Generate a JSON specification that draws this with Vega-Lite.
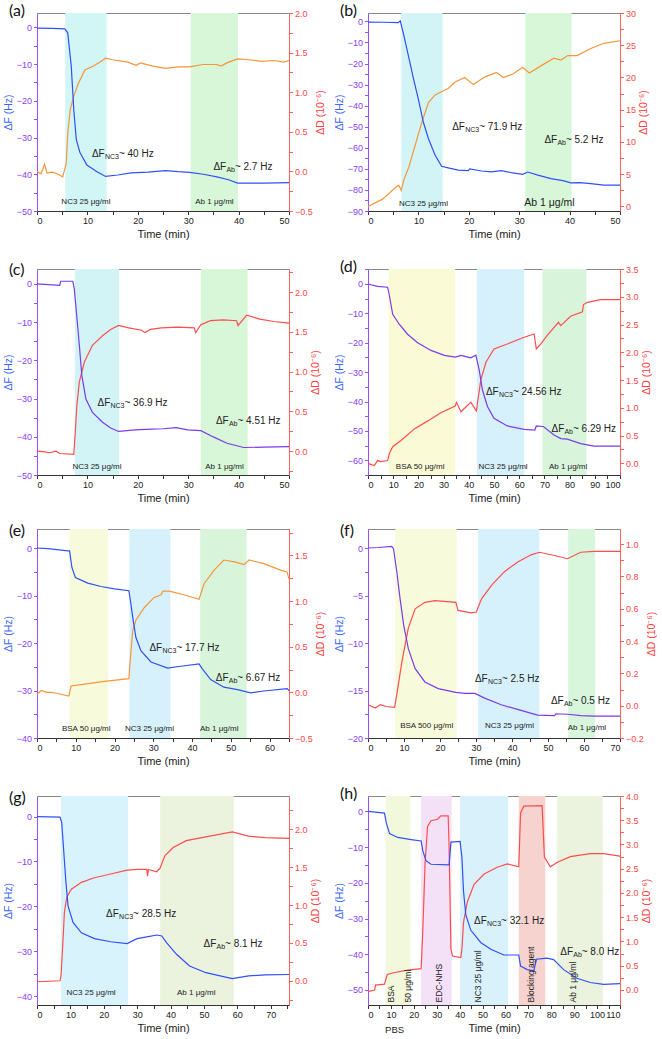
{
"$schema":"https://vega.github.io/schema/vega-lite/v6.json",
"padding":{"left":2,"right":2,"top":2,"bottom":0},
"config":{
 "view":{"stroke":"#888","strokeWidth":1},
 "font":"Liberation Sans",
 "axis":{"labelFont":"Liberation Sans","titleFont":"Liberation Sans","labelFontSize":9,"titleFontSize":10.5,"titleFontWeight":"normal","grid":false,"tickSize":3.5,"labelPadding":2,"titlePadding":3,"labelOverlap":false},
 "axisBottom":{"domainColor":"#333","tickColor":"#333","labelColor":"#222","titleColor":"#222","titleFontSize":11},
 "axisLeft":{"domainColor":"#9a50ff","tickColor":"#9a50ff","labelColor":"#8a3cf5","titleColor":"#3a66ff"},
 "axisRight":{"domainColor":"#ff6060","tickColor":"#ff6060","labelColor":"#ff4a4a","titleColor":"#ff3b3b","titleAngle":270,"titleBaseline":"top"},
 "title":{"anchor":"start","frame":"group","dx":-28,"fontSize":16,"font":"Lato","fontWeight":"normal","offset":-10,"color":"#111"},
 "text":{"font":"Liberation Sans","color":"#222"}
},
"datasets":{
 "aF":[{"t":0,"v":-0.2},{"t":3,"v":-0.3},{"t":5.5,"v":-0.4},{"t":6.1,"v":-1.5},{"t":6.8,"v":-10.6},{"t":7.3,"v":-22.5},{"t":7.8,"v":-30.6},{"t":8.5,"v":-34},{"t":9.9,"v":-37.5},{"t":11.9,"v":-39.3},{"t":13.6,"v":-40.6},{"t":16,"v":-40.2},{"t":18.7,"v":-39.6},{"t":22,"v":-39.4},{"t":25.5,"v":-39},{"t":28,"v":-39.3},{"t":30.3,"v":-39.5},{"t":33,"v":-40},{"t":35.7,"v":-40.7},{"t":38,"v":-41.5},{"t":39.8,"v":-42.4},{"t":45,"v":-42.4},{"t":50,"v":-42.3}],
 "aD":[{"t":0,"v":0},{"t":0.8,"v":-0.03},{"t":1.5,"v":0.09},{"t":2,"v":-0.02},{"t":3,"v":-0.01},{"t":4,"v":-0.03},{"t":5.1,"v":-0.07},{"t":5.8,"v":0.1},{"t":6.1,"v":0.48},{"t":6.6,"v":0.78},{"t":7.3,"v":0.95},{"t":8.2,"v":1.11},{"t":9.5,"v":1.28},{"t":11.2,"v":1.33},{"t":12.5,"v":1.38},{"t":13.6,"v":1.43},{"t":15,"v":1.41},{"t":18,"v":1.38},{"t":19.7,"v":1.34},{"t":20.5,"v":1.37},{"t":23,"v":1.33},{"t":25.5,"v":1.3},{"t":28,"v":1.32},{"t":30.3,"v":1.32},{"t":33,"v":1.35},{"t":35.7,"v":1.35},{"t":36.5,"v":1.33},{"t":38,"v":1.38},{"t":39.8,"v":1.42},{"t":42,"v":1.41},{"t":44.6,"v":1.39},{"t":47,"v":1.4},{"t":49,"v":1.38},{"t":50,"v":1.4}],
 "aB":[{"k":"NC3","s":5.6,"e":13.8},{"k":"Ab","s":30.5,"e":39.9}],
 "aL":[{"label":"NC3 25 μg/ml","t":9.7,"y":-47.6},{"label":"Ab 1 μg/ml","t":35.2,"y":-47.6}],
 "aA":[{"t":10.9,"y":-34.5,"sub":"NC3","rest":"~ 40 Hz"},{"t":35,"y":-37.9,"sub":"Ab","rest":"~ 2.7 Hz"}],

 "bF":[{"t":0,"v":-0.3},{"t":3,"v":-0.4},{"t":6,"v":-0.6},{"t":6.4,"v":0.3},{"t":7.1,"v":-6.5},{"t":8.1,"v":-17.2},{"t":9.1,"v":-28},{"t":10,"v":-37},{"t":11,"v":-48},{"t":12,"v":-55.7},{"t":13.3,"v":-63.4},{"t":14.6,"v":-68.8},{"t":15.9,"v":-69.5},{"t":17.9,"v":-70.6},{"t":19.9,"v":-70.8},{"t":20.2,"v":-70},{"t":22.5,"v":-71},{"t":24.5,"v":-71.4},{"t":26.4,"v":-70.8},{"t":28.4,"v":-71.8},{"t":30.7,"v":-72.6},{"t":31.7,"v":-71.5},{"t":33.7,"v":-73},{"t":36.3,"v":-74.6},{"t":38.9,"v":-75.7},{"t":40.2,"v":-76.6},{"t":42,"v":-76.5},{"t":44.2,"v":-77},{"t":46.8,"v":-77.7},{"t":50,"v":-77.7}],
 "bD":[{"t":0,"v":0},{"t":1.5,"v":0.6},{"t":2.8,"v":1.1},{"t":4,"v":1.9},{"t":5.4,"v":2.9},{"t":6.1,"v":3.3},{"t":6.6,"v":2.5},{"t":7.1,"v":4.1},{"t":8.1,"v":6.1},{"t":9.4,"v":9.6},{"t":10.7,"v":13.1},{"t":12,"v":16.1},{"t":13.3,"v":17.3},{"t":15.9,"v":18.3},{"t":17.3,"v":19.3},{"t":19.2,"v":20},{"t":20.9,"v":18.9},{"t":23.2,"v":20.1},{"t":25.5,"v":20.8},{"t":26.8,"v":20},{"t":28.7,"v":20.5},{"t":30.7,"v":21.6},{"t":32,"v":20.7},{"t":34.3,"v":21.8},{"t":36.9,"v":23},{"t":38.3,"v":22.7},{"t":39.6,"v":23.4},{"t":41.5,"v":23.4},{"t":44.2,"v":24.5},{"t":46.8,"v":25.3},{"t":50,"v":25.7}],
 "bB":[{"k":"NC3","s":6.6,"e":14.8},{"k":"Ab","s":31.2,"e":40.4}],
 "bL":[{"label":"NC3 25 μg/ml","t":11,"y":-86.8},{"label":"Ab 1 μg/ml","t":36,"y":-86.3}],
 "bA":[{"t":16.7,"y":-50.3,"sub":"NC3","rest":"~ 71.9 Hz"},{"t":35,"y":-56.5,"sub":"Ab","rest":"~ 5.2 Hz"}],

 "cF":[{"t":0,"v":0},{"t":4.5,"v":-0.4},{"t":4.7,"v":0.7},{"t":7.1,"v":0.7},{"t":7.4,"v":-1.3},{"t":7.7,"v":-5.7},{"t":8.3,"v":-14.4},{"t":8.9,"v":-24},{"t":9.7,"v":-30.1},{"t":11,"v":-33.6},{"t":13,"v":-36.2},{"t":14.6,"v":-37.7},{"t":16.2,"v":-38.6},{"t":19.5,"v":-38.2},{"t":22.7,"v":-38},{"t":25,"v":-37.9},{"t":27.6,"v":-37.6},{"t":29.9,"v":-38.2},{"t":32.5,"v":-38.4},{"t":35.1,"v":-40.1},{"t":37.7,"v":-41.7},{"t":41,"v":-42.8},{"t":45,"v":-42.7},{"t":50,"v":-42.6}],
 "cD":[{"t":0,"v":0},{"t":1.5,"v":-0.01},{"t":2.5,"v":-0.02},{"t":3.8,"v":0},{"t":4.5,"v":-0.03},{"t":7.3,"v":-0.04},{"t":7.6,"v":0.24},{"t":7.9,"v":0.57},{"t":8.4,"v":0.87},{"t":9.4,"v":1.12},{"t":11,"v":1.33},{"t":13,"v":1.45},{"t":14.6,"v":1.53},{"t":16.2,"v":1.58},{"t":18.2,"v":1.55},{"t":20.8,"v":1.52},{"t":21.4,"v":1.49},{"t":22.5,"v":1.53},{"t":24.7,"v":1.55},{"t":28,"v":1.56},{"t":31.2,"v":1.55},{"t":31.5,"v":1.49},{"t":32.5,"v":1.59},{"t":34.4,"v":1.64},{"t":37,"v":1.65},{"t":39.6,"v":1.64},{"t":39.9,"v":1.58},{"t":41.6,"v":1.71},{"t":44.2,"v":1.66},{"t":47,"v":1.63},{"t":50,"v":1.61}],
 "cB":[{"k":"NC3","s":7.5,"e":16.3},{"k":"Ab","s":32.5,"e":41.8}],
 "cL":[{"label":"NC3 25 μg/ml","t":11.9,"y":-47.8},{"label":"Ab 1 μg/ml","t":37.2,"y":-47.8}],
 "cA":[{"t":12,"y":-31.2,"sub":"NC3","rest":"~ 36.9 Hz"},{"t":35.5,"y":-35.9,"sub":"Ab","rest":"~ 4.51 Hz"}],

 "dF":[{"t":0,"v":0},{"t":3.8,"v":-0.8},{"t":7.8,"v":-1.1},{"t":8.5,"v":-4},{"t":9.8,"v":-10.3},{"t":12.4,"v":-13.7},{"t":15.7,"v":-17.1},{"t":19.7,"v":-20},{"t":25,"v":-22.6},{"t":30.3,"v":-24.3},{"t":34.6,"v":-24.9},{"t":36.9,"v":-24.3},{"t":40.8,"v":-25.1},{"t":42.8,"v":-24.2},{"t":44.1,"v":-29.1},{"t":45.4,"v":-36},{"t":47.4,"v":-41.7},{"t":50,"v":-45.7},{"t":55.3,"v":-48.3},{"t":62,"v":-49.5},{"t":66.2,"v":-49.7},{"t":66.8,"v":-48.3},{"t":69.6,"v":-48.5},{"t":73.8,"v":-51.4},{"t":76.5,"v":-52.6},{"t":79.1,"v":-52.8},{"t":84.4,"v":-54.3},{"t":89.7,"v":-55.2},{"t":100,"v":-55.2}],
 "dD":[{"t":0,"v":0},{"t":2.5,"v":-0.04},{"t":3.8,"v":0.05},{"t":5,"v":0.03},{"t":7.8,"v":0.05},{"t":8.5,"v":0.18},{"t":9.8,"v":0.3},{"t":13.1,"v":0.41},{"t":18.4,"v":0.62},{"t":23.6,"v":0.76},{"t":28.9,"v":0.91},{"t":34.6,"v":1.03},{"t":35.1,"v":1.1},{"t":36.9,"v":0.93},{"t":40.8,"v":1.1},{"t":43,"v":0.94},{"t":44.8,"v":1.51},{"t":46.8,"v":1.82},{"t":50,"v":2.06},{"t":55.3,"v":2.15},{"t":62,"v":2.27},{"t":65.9,"v":2.33},{"t":66.8,"v":2.06},{"t":68.6,"v":2.15},{"t":71.2,"v":2.31},{"t":75.6,"v":2.54},{"t":76.5,"v":2.48},{"t":80.4,"v":2.65},{"t":85.1,"v":2.73},{"t":85.5,"v":2.86},{"t":87.1,"v":2.9},{"t":92.3,"v":2.95},{"t":100,"v":2.95}],
 "dB":[{"k":"BSA","s":8.2,"e":34.6},{"k":"NC3","s":43.2,"e":62},{"k":"Ab","s":69.2,"e":86.7}],
 "dL":[{"label":"BSA 50 μg/ml","t":20.7,"y":-62.3},{"label":"NC3 25 μg/ml","t":53.6,"y":-62.3},{"label":"Ab 1 μg/ml","t":79.4,"y":-62.3}],
 "dA":[{"t":46.8,"y":-36.9,"sub":"NC3","rest":"~ 24.56 Hz"},{"t":72.8,"y":-49.4,"sub":"Ab","rest":"~ 6.29 Hz"}],

 "eF":[{"t":0,"v":0},{"t":2.8,"v":-0.15},{"t":8,"v":-0.6},{"t":8.4,"v":-0.6},{"t":9,"v":-4.1},{"t":9.9,"v":-6.2},{"t":13.1,"v":-7.4},{"t":16.5,"v":-8.1},{"t":20,"v":-8.6},{"t":23.7,"v":-9},{"t":24.1,"v":-11.1},{"t":24.7,"v":-14.6},{"t":25.5,"v":-18.8},{"t":26.8,"v":-21.6},{"t":29.4,"v":-24},{"t":33.7,"v":-25.3},{"t":37.1,"v":-24.9},{"t":41.8,"v":-24.4},{"t":42.6,"v":-25.4},{"t":44.8,"v":-27.7},{"t":48.2,"v":-29.3},{"t":51.7,"v":-29.8},{"t":55.1,"v":-30.5},{"t":58.5,"v":-30.1},{"t":64.5,"v":-29.6},{"t":65,"v":-30}],
 "eD":[{"t":0,"v":-0.02},{"t":1.1,"v":0.02},{"t":2.5,"v":0},{"t":3.7,"v":0},{"t":5,"v":-0.01},{"t":8.2,"v":-0.04},{"t":8.8,"v":0.07},{"t":12.3,"v":0.09},{"t":17.4,"v":0.12},{"t":23.7,"v":0.15},{"t":24.1,"v":0.38},{"t":24.7,"v":0.68},{"t":25.5,"v":0.79},{"t":27.7,"v":0.93},{"t":30.2,"v":1.04},{"t":32,"v":1.07},{"t":32.5,"v":1.11},{"t":34.1,"v":1.11},{"t":37.9,"v":1.07},{"t":41.8,"v":1.02},{"t":43.1,"v":1.19},{"t":45.7,"v":1.34},{"t":48.2,"v":1.45},{"t":51,"v":1.43},{"t":53.4,"v":1.4},{"t":54.7,"v":1.45},{"t":58.5,"v":1.41},{"t":61,"v":1.37},{"t":62.8,"v":1.34},{"t":64.5,"v":1.32},{"t":65,"v":1.24}],
 "eB":[{"k":"BSA","s":8.4,"e":18.3},{"k":"NC3","s":23.8,"e":34.4},{"k":"Ab","s":42.1,"e":54.1}],
 "eL":[{"label":"BSA 50 μg/ml","t":12.7,"y":-38},{"label":"NC3 25 μg/ml","t":29,"y":-38},{"label":"Ab 1 μg/ml","t":47,"y":-38}],
 "eA":[{"t":29,"y":-21.1,"sub":"NC3","rest":"~ 17.7 Hz"},{"t":46.1,"y":-27.3,"sub":"Ab","rest":"~ 6.67 Hz"}],

 "fF":[{"t":0,"v":0},{"t":2.9,"v":0.05},{"t":6.6,"v":0.17},{"t":7.1,"v":-0.1},{"t":8,"v":-2.5},{"t":8.9,"v":-5.3},{"t":9.9,"v":-8.1},{"t":11.2,"v":-10.6},{"t":13.1,"v":-12.7},{"t":15.8,"v":-14.1},{"t":19.5,"v":-14.8},{"t":24.4,"v":-15.2},{"t":26.9,"v":-15.3},{"t":29.7,"v":-15.3},{"t":32.4,"v":-15.8},{"t":37,"v":-16.5},{"t":42.5,"v":-17.1},{"t":47.1,"v":-17.6},{"t":51.8,"v":-17.65},{"t":52.2,"v":-17.45},{"t":55.4,"v":-17.5},{"t":59.1,"v":-17.65},{"t":62.8,"v":-17.7},{"t":70,"v":-17.7}],
 "fD":[{"t":0,"v":0.006},{"t":2,"v":-0.014},{"t":3.4,"v":0.006},{"t":5,"v":-0.005},{"t":7.4,"v":-0.01},{"t":8,"v":0.07},{"t":9.4,"v":0.27},{"t":11.2,"v":0.48},{"t":13.1,"v":0.6},{"t":15.8,"v":0.64},{"t":18.6,"v":0.65},{"t":24.4,"v":0.64},{"t":25,"v":0.59},{"t":28.7,"v":0.575},{"t":30.1,"v":0.58},{"t":31.5,"v":0.66},{"t":34.3,"v":0.745},{"t":37.9,"v":0.83},{"t":41.6,"v":0.89},{"t":45.3,"v":0.934},{"t":47.6,"v":0.95},{"t":51.8,"v":0.93},{"t":55.4,"v":0.91},{"t":59.1,"v":0.95},{"t":62.8,"v":0.955},{"t":70,"v":0.955}],
 "fB":[{"k":"BSA","s":7.6,"e":24.6},{"k":"NC3","s":30.6,"e":47.6},{"k":"Ab","s":55.6,"e":63.1}],
 "fL":[{"label":"BSA 500 μg/ml","t":16.3,"y":-18.7},{"label":"NC3 25 μg/ml","t":39.3,"y":-18.7},{"label":"Ab 1 μg/ml","t":60.8,"y":-18.9}],
 "fA":[{"t":29.7,"y":-13.8,"sub":"NC3","rest":"~ 2.5 Hz"},{"t":50.8,"y":-16.1,"sub":"Ab","rest":"~ 0.5 Hz"}],

 "gF":[{"t":0,"v":0},{"t":6.9,"v":-0.1},{"t":7.4,"v":-1.3},{"t":7.9,"v":-6.5},{"t":8.6,"v":-14},{"t":9.3,"v":-19.9},{"t":10.8,"v":-23.6},{"t":13.3,"v":-25.9},{"t":17.2,"v":-27.2},{"t":22.1,"v":-27.9},{"t":27,"v":-28.3},{"t":30,"v":-27.2},{"t":32.9,"v":-26.8},{"t":35.9,"v":-26.4},{"t":37.4,"v":-26.6},{"t":38.8,"v":-28.1},{"t":41.8,"v":-30.7},{"t":45.7,"v":-33.3},{"t":50.6,"v":-34.8},{"t":58.5,"v":-36.1},{"t":63.4,"v":-35.5},{"t":68.3,"v":-35.3},{"t":75.5,"v":-35.2}],
 "gD":[{"t":0,"v":-0.013},{"t":6.9,"v":0},{"t":7.2,"v":0.07},{"t":7.7,"v":0.46},{"t":8.2,"v":0.9},{"t":8.9,"v":1.1},{"t":10.3,"v":1.21},{"t":13.3,"v":1.3},{"t":17.2,"v":1.36},{"t":22.1,"v":1.41},{"t":27,"v":1.46},{"t":30,"v":1.47},{"t":32.9,"v":1.47},{"t":33.1,"v":1.38},{"t":33.4,"v":1.47},{"t":35.9,"v":1.44},{"t":36.9,"v":1.49},{"t":38.3,"v":1.65},{"t":40.8,"v":1.76},{"t":44.7,"v":1.85},{"t":50.6,"v":1.9},{"t":58.5,"v":1.965},{"t":63.4,"v":1.91},{"t":68.3,"v":1.89},{"t":75.5,"v":1.88}],
 "gB":[{"k":"NC3","s":7.2,"e":27.3},{"k":"Ab","s":36.9,"e":59}],
 "gL":[{"label":"NC3 25 μg/ml","t":16.2,"y":-39.3},{"label":"Ab 1 μg/ml","t":47.7,"y":-39.3}],
 "gA":[{"t":20.7,"y":-21.8,"sub":"NC3","rest":"~ 28.5 Hz"},{"t":49.9,"y":-28.5,"sub":"Ab","rest":"~ 8.1 Hz"}],

 "hF":[{"t":0,"v":0},{"t":4.3,"v":-0.3},{"t":7.2,"v":-0.5},{"t":8,"v":-3.3},{"t":9.4,"v":-6.2},{"t":13,"v":-7.3},{"t":18.8,"v":-7.9},{"t":23.2,"v":-8.3},{"t":23.9,"v":-11},{"t":25.3,"v":-13.8},{"t":27.5,"v":-14.8},{"t":35.4,"v":-15},{"t":36.2,"v":-8.6},{"t":40.2,"v":-8.4},{"t":41,"v":-12.9},{"t":41.7,"v":-22.4},{"t":42.7,"v":-29},{"t":44.9,"v":-33.3},{"t":49.2,"v":-36.7},{"t":53.6,"v":-38.6},{"t":59.3,"v":-40.2},{"t":65.8,"v":-40.2},{"t":66.6,"v":-43.3},{"t":69.5,"v":-44.3},{"t":72.4,"v":-44.6},{"t":73.5,"v":-41.4},{"t":78.1,"v":-41.1},{"t":81,"v":-41.5},{"t":85.4,"v":-44.3},{"t":91.2,"v":-46.7},{"t":97,"v":-47.9},{"t":102.8,"v":-48.4},{"t":110,"v":-48.2}],
 "hD":[{"t":0,"v":-0.035},{"t":2.9,"v":0},{"t":3.3,"v":0.1},{"t":7.2,"v":0.12},{"t":8.4,"v":0.32},{"t":11.6,"v":0.36},{"t":17.4,"v":0.41},{"t":23.2,"v":0.44},{"t":23.9,"v":1.19},{"t":24.9,"v":2.6},{"t":26,"v":3.37},{"t":27.5,"v":3.49},{"t":30.4,"v":3.52},{"t":31.8,"v":3.59},{"t":35,"v":3.59},{"t":35.4,"v":2.95},{"t":36.2,"v":0.84},{"t":36.9,"v":0.7},{"t":40.5,"v":0.67},{"t":41,"v":0.84},{"t":41.7,"v":1.4},{"t":43.4,"v":1.82},{"t":46.3,"v":2.18},{"t":50.7,"v":2.39},{"t":56.4,"v":2.53},{"t":60.8,"v":2.6},{"t":65.8,"v":2.54},{"t":66.6,"v":3.65},{"t":68,"v":3.79},{"t":76,"v":3.8},{"t":77,"v":2.74},{"t":79.6,"v":2.54},{"t":82.5,"v":2.63},{"t":88.3,"v":2.75},{"t":97,"v":2.81},{"t":102.8,"v":2.81},{"t":110,"v":2.76}],
 "hB":[{"k":"BSA","s":7.7,"e":18.5},{"k":"EDC","s":23.2,"e":36.5},{"k":"NC3","s":40.2,"e":61.2},{"k":"Block","s":65.8,"e":77.4},{"k":"Ab","s":82.5,"e":102.5}],
 "hL":[{"label":"BSA","t":10.1,"y":-53.5},{"label":"50 μg/ml","t":17.4,"y":-53.5},{"label":"EDC-NHS","t":31.1,"y":-53.5},{"label":"NC3 25 μg/ml","t":47.8,"y":-53.5},{"label":"Blocking agent","t":71.3,"y":-53.5},{"label":"Ab 1 μg/ml","t":89.7,"y":-53.5}],
 "hP":[{"label":"PBS","t":11.6,"y":-61.2}],
 "hA":[{"t":46.3,"y":-30.8,"sub":"NC3","rest":"~ 32.1 Hz"},{"t":83.9,"y":-39.3,"sub":"Ab","rest":"~ 8.0 Hz"}]
},
"concat":[
 {"title":"(a)","width":252,"height":198,
  "layer":[
   {"data":{"name":"aB"},"mark":{"type":"rect"},"encoding":{"x":{"field":"s","type":"quantitative","scale":{"domain":[0,50],"nice":false,"zero":false},"axis":{"values":[0,5,10,15,20,25,30,35,40,45,50],"format":"d","labelExpr":"abs(datum.value/10-round(datum.value/10))<0.001 ? datum.label : ''","tickCount":60,"title":"Time (min)"}},"x2":{"field":"e"},"color":{"field":"k","type":"nominal","scale":{"domain":["NC3","Ab"],"range":["#d2f5f5","#d8f6d8"]},"legend":null}}},
   {"data":{"name":"aD"},"mark":{"type":"line","color":"#f5963a","strokeWidth":1.2},"encoding":{"x":{"field":"t","type":"quantitative","scale":{"domain":[0,50],"nice":false,"zero":false}},"y":{"field":"v","type":"quantitative","scale":{"domain":[-0.5,2.0],"nice":false,"zero":false},"axis":{"orient":"right","values":[-0.5,-0.25,0,0.25,0.5,0.75,1,1.25,1.5,1.75,2],"format":".1f","labelExpr":"abs(datum.value/0.5-round(datum.value/0.5))<0.001 ? datum.label : ''","tickCount":60,"title":"ΔD (10⁻⁶)"}}}},
   {"layer":[
     {"data":{"name":"aF"},"mark":{"type":"line","color":"#3050f8","strokeWidth":1.2},"encoding":{"x":{"field":"t","type":"quantitative","scale":{"domain":[0,50],"nice":false,"zero":false}},"y":{"field":"v","type":"quantitative","scale":{"domain":[-50,3.9],"nice":false,"zero":false},"axis":{"orient":"left","values":[-50,-45,-40,-35,-30,-25,-20,-15,-10,-5,0],"format":"d","labelExpr":"abs(datum.value/10-round(datum.value/10))<0.001 ? datum.label : ''","tickCount":60,"title":"ΔF (Hz)"}}}},
     {"data":{"name":"aL"},"mark":{"type":"text","fontSize":8},"encoding":{"x":{"field":"t","type":"quantitative","scale":{"domain":[0,50],"nice":false,"zero":false}},"y":{"field":"y","type":"quantitative","scale":{"domain":[-50,3.9],"nice":false,"zero":false}},"text":{"field":"label"}}},
     {"data":{"name":"aA"},"mark":{"type":"text","fontSize":10,"align":"left","text":"ΔF"},"encoding":{"x":{"field":"t","type":"quantitative","scale":{"domain":[0,50],"nice":false,"zero":false}},"y":{"field":"y","type":"quantitative","scale":{"domain":[-50,3.9],"nice":false,"zero":false}}}},
     {"data":{"name":"aA"},"mark":{"type":"text","fontSize":7,"align":"left","dx":13,"dy":3},"encoding":{"x":{"field":"t","type":"quantitative","scale":{"domain":[0,50],"nice":false,"zero":false}},"y":{"field":"y","type":"quantitative","scale":{"domain":[-50,3.9],"nice":false,"zero":false}},"text":{"field":"sub"}}},
     {"data":{"name":"aA"},"transform":[{"filter":"datum.sub=='NC3'"}],"mark":{"type":"text","fontSize":10,"align":"left","dx":27},"encoding":{"x":{"field":"t","type":"quantitative","scale":{"domain":[0,50],"nice":false,"zero":false}},"y":{"field":"y","type":"quantitative","scale":{"domain":[-50,3.9],"nice":false,"zero":false}},"text":{"field":"rest"}}},
     {"data":{"name":"aA"},"transform":[{"filter":"datum.sub=='Ab'"}],"mark":{"type":"text","fontSize":10,"align":"left","dx":21.5},"encoding":{"x":{"field":"t","type":"quantitative","scale":{"domain":[0,50],"nice":false,"zero":false}},"y":{"field":"y","type":"quantitative","scale":{"domain":[-50,3.9],"nice":false,"zero":false}},"text":{"field":"rest"}}}
   ]}
  ],
  "resolve":{"scale":{"y":"independent"}}
 },
 {"title":"(b)","width":252,"height":198,
  "layer":[
   {"data":{"name":"bB"},"mark":{"type":"rect"},"encoding":{"x":{"field":"s","type":"quantitative","scale":{"domain":[0,50],"nice":false,"zero":false},"axis":{"values":[0,5,10,15,20,25,30,35,40,45,50],"format":"d","labelExpr":"abs(datum.value/10-round(datum.value/10))<0.001 ? datum.label : ''","tickCount":60,"title":"Time (min)"}},"x2":{"field":"e"},"color":{"field":"k","type":"nominal","scale":{"domain":["NC3","Ab"],"range":["#d2f4f6","#d8f6d8"]},"legend":null}}},
   {"data":{"name":"bD"},"mark":{"type":"line","color":"#f5963a","strokeWidth":1.2},"encoding":{"x":{"field":"t","type":"quantitative","scale":{"domain":[0,50],"nice":false,"zero":false}},"y":{"field":"v","type":"quantitative","scale":{"domain":[-0.7,30],"nice":false,"zero":false},"axis":{"orient":"right","values":[0,2.5,5,7.5,10,12.5,15,17.5,20,22.5,25,27.5,30],"format":"d","labelExpr":"abs(datum.value/5-round(datum.value/5))<0.001 ? datum.label : ''","tickCount":60,"title":"ΔD (10⁻⁶)"}}}},
   {"layer":[
     {"data":{"name":"bF"},"mark":{"type":"line","color":"#3050f8","strokeWidth":1.2},"encoding":{"x":{"field":"t","type":"quantitative","scale":{"domain":[0,50],"nice":false,"zero":false}},"y":{"field":"v","type":"quantitative","scale":{"domain":[-90,4],"nice":false,"zero":false},"axis":{"orient":"left","values":[-90,-85,-80,-75,-70,-65,-60,-55,-50,-45,-40,-35,-30,-25,-20,-15,-10,-5,0],"format":"d","labelExpr":"abs(datum.value/10-round(datum.value/10))<0.001 ? datum.label : ''","tickCount":60,"title":"ΔF (Hz)"}}}},
     {"data":{"name":"bL"},"transform":[{"filter":"datum.label!='Ab 1 μg/ml'"}],"mark":{"type":"text","fontSize":8},"encoding":{"x":{"field":"t","type":"quantitative","scale":{"domain":[0,50],"nice":false,"zero":false}},"y":{"field":"y","type":"quantitative","scale":{"domain":[-90,4],"nice":false,"zero":false}},"text":{"field":"label"}}},
     {"data":{"name":"bL"},"transform":[{"filter":"datum.label=='Ab 1 μg/ml'"}],"mark":{"type":"text","fontSize":10.5},"encoding":{"x":{"field":"t","type":"quantitative","scale":{"domain":[0,50],"nice":false,"zero":false}},"y":{"field":"y","type":"quantitative","scale":{"domain":[-90,4],"nice":false,"zero":false}},"text":{"field":"label"}}},
     {"data":{"name":"bA"},"mark":{"type":"text","fontSize":10,"align":"left","text":"ΔF"},"encoding":{"x":{"field":"t","type":"quantitative","scale":{"domain":[0,50],"nice":false,"zero":false}},"y":{"field":"y","type":"quantitative","scale":{"domain":[-90,4],"nice":false,"zero":false}}}},
     {"data":{"name":"bA"},"mark":{"type":"text","fontSize":7,"align":"left","dx":13,"dy":3},"encoding":{"x":{"field":"t","type":"quantitative","scale":{"domain":[0,50],"nice":false,"zero":false}},"y":{"field":"y","type":"quantitative","scale":{"domain":[-90,4],"nice":false,"zero":false}},"text":{"field":"sub"}}},
     {"data":{"name":"bA"},"transform":[{"filter":"datum.sub=='NC3'"}],"mark":{"type":"text","fontSize":10,"align":"left","dx":27},"encoding":{"x":{"field":"t","type":"quantitative","scale":{"domain":[0,50],"nice":false,"zero":false}},"y":{"field":"y","type":"quantitative","scale":{"domain":[-90,4],"nice":false,"zero":false}},"text":{"field":"rest"}}},
     {"data":{"name":"bA"},"transform":[{"filter":"datum.sub=='Ab'"}],"mark":{"type":"text","fontSize":10,"align":"left","dx":21.5},"encoding":{"x":{"field":"t","type":"quantitative","scale":{"domain":[0,50],"nice":false,"zero":false}},"y":{"field":"y","type":"quantitative","scale":{"domain":[-90,4],"nice":false,"zero":false}},"text":{"field":"rest"}}}
   ]}
  ],
  "resolve":{"scale":{"y":"independent"}}
 },
 {"title":"(c)","width":252,"height":206,
  "layer":[
   {"data":{"name":"cB"},"mark":{"type":"rect"},"encoding":{"x":{"field":"s","type":"quantitative","scale":{"domain":[0,50],"nice":false,"zero":false},"axis":{"values":[0,5,10,15,20,25,30,35,40,45,50],"format":"d","labelExpr":"abs(datum.value/10-round(datum.value/10))<0.001 ? datum.label : ''","tickCount":60,"title":"Time (min)"}},"x2":{"field":"e"},"color":{"field":"k","type":"nominal","scale":{"domain":["NC3","Ab"],"range":["#d2f4f6","#d8f6d8"]},"legend":null}}},
   {"data":{"name":"cD"},"mark":{"type":"line","color":"#ff4d4d","strokeWidth":1.2},"encoding":{"x":{"field":"t","type":"quantitative","scale":{"domain":[0,50],"nice":false,"zero":false}},"y":{"field":"v","type":"quantitative","scale":{"domain":[-0.3,2.29],"nice":false,"zero":false},"axis":{"orient":"right","values":[-0.25,0,0.25,0.5,0.75,1,1.25,1.5,1.75,2,2.25],"format":".1f","labelExpr":"abs(datum.value/0.5-round(datum.value/0.5))<0.001 ? datum.label : ''","tickCount":60,"title":"ΔD (10⁻⁶)"}}}},
   {"layer":[
     {"data":{"name":"cF"},"mark":{"type":"line","color":"#7a3ce8","strokeWidth":1.2},"encoding":{"x":{"field":"t","type":"quantitative","scale":{"domain":[0,50],"nice":false,"zero":false}},"y":{"field":"v","type":"quantitative","scale":{"domain":[-50,3.9],"nice":false,"zero":false},"axis":{"orient":"left","values":[-50,-45,-40,-35,-30,-25,-20,-15,-10,-5,0],"format":"d","labelExpr":"abs(datum.value/10-round(datum.value/10))<0.001 ? datum.label : ''","tickCount":60,"title":"ΔF (Hz)"}}}},
     {"data":{"name":"cL"},"mark":{"type":"text","fontSize":8},"encoding":{"x":{"field":"t","type":"quantitative","scale":{"domain":[0,50],"nice":false,"zero":false}},"y":{"field":"y","type":"quantitative","scale":{"domain":[-50,3.9],"nice":false,"zero":false}},"text":{"field":"label"}}},
     {"data":{"name":"cA"},"mark":{"type":"text","fontSize":10,"align":"left","text":"ΔF"},"encoding":{"x":{"field":"t","type":"quantitative","scale":{"domain":[0,50],"nice":false,"zero":false}},"y":{"field":"y","type":"quantitative","scale":{"domain":[-50,3.9],"nice":false,"zero":false}}}},
     {"data":{"name":"cA"},"mark":{"type":"text","fontSize":7,"align":"left","dx":13,"dy":3},"encoding":{"x":{"field":"t","type":"quantitative","scale":{"domain":[0,50],"nice":false,"zero":false}},"y":{"field":"y","type":"quantitative","scale":{"domain":[-50,3.9],"nice":false,"zero":false}},"text":{"field":"sub"}}},
     {"data":{"name":"cA"},"transform":[{"filter":"datum.sub=='NC3'"}],"mark":{"type":"text","fontSize":10,"align":"left","dx":27},"encoding":{"x":{"field":"t","type":"quantitative","scale":{"domain":[0,50],"nice":false,"zero":false}},"y":{"field":"y","type":"quantitative","scale":{"domain":[-50,3.9],"nice":false,"zero":false}},"text":{"field":"rest"}}},
     {"data":{"name":"cA"},"transform":[{"filter":"datum.sub=='Ab'"}],"mark":{"type":"text","fontSize":10,"align":"left","dx":21.5},"encoding":{"x":{"field":"t","type":"quantitative","scale":{"domain":[0,50],"nice":false,"zero":false}},"y":{"field":"y","type":"quantitative","scale":{"domain":[-50,3.9],"nice":false,"zero":false}},"text":{"field":"rest"}}}
   ]}
  ],
  "resolve":{"scale":{"y":"independent"}}
 },
 {"title":"(d)","width":252,"height":206,
  "layer":[
   {"data":{"name":"dB"},"mark":{"type":"rect"},"encoding":{"x":{"field":"s","type":"quantitative","scale":{"domain":[0,100],"nice":false,"zero":false},"axis":{"values":[0,5,10,15,20,25,30,35,40,45,50,55,60,65,70,75,80,85,90,95,100],"format":"d","labelExpr":"abs(datum.value/10-round(datum.value/10))<0.001 ? datum.label : ''","tickCount":60,"title":"Time (min)"}},"x2":{"field":"e"},"color":{"field":"k","type":"nominal","scale":{"domain":["BSA","NC3","Ab"],"range":["#fafad6","#d6f1fb","#d8f5dc"]},"legend":null}}},
   {"data":{"name":"dD"},"mark":{"type":"line","color":"#ff4d4d","strokeWidth":1.2},"encoding":{"x":{"field":"t","type":"quantitative","scale":{"domain":[0,100],"nice":false,"zero":false}},"y":{"field":"v","type":"quantitative","scale":{"domain":[-0.21,3.5],"nice":false,"zero":false},"axis":{"orient":"right","values":[0,0.25,0.5,0.75,1,1.25,1.5,1.75,2,2.25,2.5,2.75,3,3.25,3.5],"format":".1f","labelExpr":"abs(datum.value/0.5-round(datum.value/0.5))<0.001 ? datum.label : ''","tickCount":60,"title":"ΔD (10⁻⁶)"}}}},
   {"layer":[
     {"data":{"name":"dF"},"mark":{"type":"line","color":"#7a3ce8","strokeWidth":1.2},"encoding":{"x":{"field":"t","type":"quantitative","scale":{"domain":[0,100],"nice":false,"zero":false}},"y":{"field":"v","type":"quantitative","scale":{"domain":[-65,5.1],"nice":false,"zero":false},"axis":{"orient":"left","values":[-65,-60,-55,-50,-45,-40,-35,-30,-25,-20,-15,-10,-5,0,5],"format":"d","labelExpr":"abs(datum.value/10-round(datum.value/10))<0.001 ? datum.label : ''","tickCount":60,"title":"ΔF (Hz)"}}}},
     {"data":{"name":"dL"},"mark":{"type":"text","fontSize":8},"encoding":{"x":{"field":"t","type":"quantitative","scale":{"domain":[0,100],"nice":false,"zero":false}},"y":{"field":"y","type":"quantitative","scale":{"domain":[-65,5.1],"nice":false,"zero":false}},"text":{"field":"label"}}},
     {"data":{"name":"dA"},"mark":{"type":"text","fontSize":10,"align":"left","text":"ΔF"},"encoding":{"x":{"field":"t","type":"quantitative","scale":{"domain":[0,100],"nice":false,"zero":false}},"y":{"field":"y","type":"quantitative","scale":{"domain":[-65,5.1],"nice":false,"zero":false}}}},
     {"data":{"name":"dA"},"mark":{"type":"text","fontSize":7,"align":"left","dx":13,"dy":3},"encoding":{"x":{"field":"t","type":"quantitative","scale":{"domain":[0,100],"nice":false,"zero":false}},"y":{"field":"y","type":"quantitative","scale":{"domain":[-65,5.1],"nice":false,"zero":false}},"text":{"field":"sub"}}},
     {"data":{"name":"dA"},"transform":[{"filter":"datum.sub=='NC3'"}],"mark":{"type":"text","fontSize":10,"align":"left","dx":27},"encoding":{"x":{"field":"t","type":"quantitative","scale":{"domain":[0,100],"nice":false,"zero":false}},"y":{"field":"y","type":"quantitative","scale":{"domain":[-65,5.1],"nice":false,"zero":false}},"text":{"field":"rest"}}},
     {"data":{"name":"dA"},"transform":[{"filter":"datum.sub=='Ab'"}],"mark":{"type":"text","fontSize":10,"align":"left","dx":21.5},"encoding":{"x":{"field":"t","type":"quantitative","scale":{"domain":[0,100],"nice":false,"zero":false}},"y":{"field":"y","type":"quantitative","scale":{"domain":[-65,5.1],"nice":false,"zero":false}},"text":{"field":"rest"}}}
   ]}
  ],
  "resolve":{"scale":{"y":"independent"}}
 },
 {"title":"(e)","width":252,"height":209,
  "layer":[
   {"data":{"name":"eB"},"mark":{"type":"rect"},"encoding":{"x":{"field":"s","type":"quantitative","scale":{"domain":[0,65],"nice":false,"zero":false},"axis":{"values":[0,5,10,15,20,25,30,35,40,45,50,55,60,65],"format":"d","labelExpr":"abs(datum.value/10-round(datum.value/10))<0.001 ? datum.label : ''","tickCount":60,"title":"Time (min)"}},"x2":{"field":"e"},"color":{"field":"k","type":"nominal","scale":{"domain":["BSA","NC3","Ab"],"range":["#f7fadb","#d6f1fb","#d8f5dc"]},"legend":null}}},
   {"data":{"name":"eD"},"mark":{"type":"line","color":"#f5963a","strokeWidth":1.2},"encoding":{"x":{"field":"t","type":"quantitative","scale":{"domain":[0,65],"nice":false,"zero":false}},"y":{"field":"v","type":"quantitative","scale":{"domain":[-0.5,1.79],"nice":false,"zero":false},"axis":{"orient":"right","values":[-0.5,-0.25,0,0.25,0.5,0.75,1,1.25,1.5,1.75],"format":".1f","labelExpr":"abs(datum.value/0.5-round(datum.value/0.5))<0.001 ? datum.label : ''","tickCount":60,"title":"ΔD (10⁻⁶)"}}}},
   {"layer":[
     {"data":{"name":"eF"},"mark":{"type":"line","color":"#3050f8","strokeWidth":1.2},"encoding":{"x":{"field":"t","type":"quantitative","scale":{"domain":[0,65],"nice":false,"zero":false}},"y":{"field":"v","type":"quantitative","scale":{"domain":[-40,4],"nice":false,"zero":false},"axis":{"orient":"left","values":[-40,-35,-30,-25,-20,-15,-10,-5,0],"format":"d","labelExpr":"abs(datum.value/10-round(datum.value/10))<0.001 ? datum.label : ''","tickCount":60,"title":"ΔF (Hz)"}}}},
     {"data":{"name":"eL"},"mark":{"type":"text","fontSize":8},"encoding":{"x":{"field":"t","type":"quantitative","scale":{"domain":[0,65],"nice":false,"zero":false}},"y":{"field":"y","type":"quantitative","scale":{"domain":[-40,4],"nice":false,"zero":false}},"text":{"field":"label"}}},
     {"data":{"name":"eA"},"mark":{"type":"text","fontSize":10,"align":"left","text":"ΔF"},"encoding":{"x":{"field":"t","type":"quantitative","scale":{"domain":[0,65],"nice":false,"zero":false}},"y":{"field":"y","type":"quantitative","scale":{"domain":[-40,4],"nice":false,"zero":false}}}},
     {"data":{"name":"eA"},"mark":{"type":"text","fontSize":7,"align":"left","dx":13,"dy":3},"encoding":{"x":{"field":"t","type":"quantitative","scale":{"domain":[0,65],"nice":false,"zero":false}},"y":{"field":"y","type":"quantitative","scale":{"domain":[-40,4],"nice":false,"zero":false}},"text":{"field":"sub"}}},
     {"data":{"name":"eA"},"transform":[{"filter":"datum.sub=='NC3'"}],"mark":{"type":"text","fontSize":10,"align":"left","dx":27},"encoding":{"x":{"field":"t","type":"quantitative","scale":{"domain":[0,65],"nice":false,"zero":false}},"y":{"field":"y","type":"quantitative","scale":{"domain":[-40,4],"nice":false,"zero":false}},"text":{"field":"rest"}}},
     {"data":{"name":"eA"},"transform":[{"filter":"datum.sub=='Ab'"}],"mark":{"type":"text","fontSize":10,"align":"left","dx":21.5},"encoding":{"x":{"field":"t","type":"quantitative","scale":{"domain":[0,65],"nice":false,"zero":false}},"y":{"field":"y","type":"quantitative","scale":{"domain":[-40,4],"nice":false,"zero":false}},"text":{"field":"rest"}}}
   ]}
  ],
  "resolve":{"scale":{"y":"independent"}}
 },
 {"title":"(f)","width":252,"height":209,
  "layer":[
   {"data":{"name":"fB"},"mark":{"type":"rect"},"encoding":{"x":{"field":"s","type":"quantitative","scale":{"domain":[0,70],"nice":false,"zero":false},"axis":{"values":[0,5,10,15,20,25,30,35,40,45,50,55,60,65,70],"format":"d","labelExpr":"abs(datum.value/10-round(datum.value/10))<0.001 ? datum.label : ''","tickCount":60,"title":"Time (min)"}},"x2":{"field":"e"},"color":{"field":"k","type":"nominal","scale":{"domain":["BSA","NC3","Ab"],"range":["#f7fadb","#d6f1fb","#d8f6dc"]},"legend":null}}},
   {"data":{"name":"fD"},"mark":{"type":"line","color":"#ff4d4d","strokeWidth":1.2},"encoding":{"x":{"field":"t","type":"quantitative","scale":{"domain":[0,70],"nice":false,"zero":false}},"y":{"field":"v","type":"quantitative","scale":{"domain":[-0.2,1.094],"nice":false,"zero":false},"axis":{"orient":"right","values":[-0.2,-0.1,0,0.1,0.2,0.3,0.4,0.5,0.6,0.7,0.8,0.9,1],"format":".1f","labelExpr":"abs(datum.value/0.2-round(datum.value/0.2))<0.001 ? datum.label : ''","tickCount":60,"title":"ΔD (10⁻⁶)"}}}},
   {"layer":[
     {"data":{"name":"fF"},"mark":{"type":"line","color":"#7a3ce8","strokeWidth":1.2},"encoding":{"x":{"field":"t","type":"quantitative","scale":{"domain":[0,70],"nice":false,"zero":false}},"y":{"field":"v","type":"quantitative","scale":{"domain":[-20,2],"nice":false,"zero":false},"axis":{"orient":"left","values":[-20,-17.5,-15,-12.5,-10,-7.5,-5,-2.5,0],"format":"d","labelExpr":"abs(datum.value/5-round(datum.value/5))<0.001 ? datum.label : ''","tickCount":60,"title":"ΔF (Hz)"}}}},
     {"data":{"name":"fL"},"mark":{"type":"text","fontSize":8},"encoding":{"x":{"field":"t","type":"quantitative","scale":{"domain":[0,70],"nice":false,"zero":false}},"y":{"field":"y","type":"quantitative","scale":{"domain":[-20,2],"nice":false,"zero":false}},"text":{"field":"label"}}},
     {"data":{"name":"fA"},"mark":{"type":"text","fontSize":10,"align":"left","text":"ΔF"},"encoding":{"x":{"field":"t","type":"quantitative","scale":{"domain":[0,70],"nice":false,"zero":false}},"y":{"field":"y","type":"quantitative","scale":{"domain":[-20,2],"nice":false,"zero":false}}}},
     {"data":{"name":"fA"},"mark":{"type":"text","fontSize":7,"align":"left","dx":13,"dy":3},"encoding":{"x":{"field":"t","type":"quantitative","scale":{"domain":[0,70],"nice":false,"zero":false}},"y":{"field":"y","type":"quantitative","scale":{"domain":[-20,2],"nice":false,"zero":false}},"text":{"field":"sub"}}},
     {"data":{"name":"fA"},"transform":[{"filter":"datum.sub=='NC3'"}],"mark":{"type":"text","fontSize":10,"align":"left","dx":27},"encoding":{"x":{"field":"t","type":"quantitative","scale":{"domain":[0,70],"nice":false,"zero":false}},"y":{"field":"y","type":"quantitative","scale":{"domain":[-20,2],"nice":false,"zero":false}},"text":{"field":"rest"}}},
     {"data":{"name":"fA"},"transform":[{"filter":"datum.sub=='Ab'"}],"mark":{"type":"text","fontSize":10,"align":"left","dx":21.5},"encoding":{"x":{"field":"t","type":"quantitative","scale":{"domain":[0,70],"nice":false,"zero":false}},"y":{"field":"y","type":"quantitative","scale":{"domain":[-20,2],"nice":false,"zero":false}},"text":{"field":"rest"}}}
   ]}
  ],
  "resolve":{"scale":{"y":"independent"}}
 },
 {"title":"(g)","width":252,"height":209,
  "layer":[
   {"data":{"name":"gB"},"mark":{"type":"rect"},"encoding":{"x":{"field":"s","type":"quantitative","scale":{"domain":[0,75.5],"nice":false,"zero":false},"axis":{"values":[0,5,10,15,20,25,30,35,40,45,50,55,60,65,70,75],"format":"d","labelExpr":"abs(datum.value/10-round(datum.value/10))<0.001 ? datum.label : ''","tickCount":60,"title":"Time (min)"}},"x2":{"field":"e"},"color":{"field":"k","type":"nominal","scale":{"domain":["NC3","Ab"],"range":["#d8f3fc","#ebf2dd"]},"legend":null}}},
   {"data":{"name":"gD"},"mark":{"type":"line","color":"#ff4d4d","strokeWidth":1.2},"encoding":{"x":{"field":"t","type":"quantitative","scale":{"domain":[0,75.5],"nice":false,"zero":false}},"y":{"field":"v","type":"quantitative","scale":{"domain":[-0.32,2.44],"nice":false,"zero":false},"axis":{"orient":"right","values":[-0.25,0,0.25,0.5,0.75,1,1.25,1.5,1.75,2,2.25],"format":".1f","labelExpr":"abs(datum.value/0.5-round(datum.value/0.5))<0.001 ? datum.label : ''","tickCount":60,"title":"ΔD (10⁻⁶)"}}}},
   {"layer":[
     {"data":{"name":"gF"},"mark":{"type":"line","color":"#3050f8","strokeWidth":1.2},"encoding":{"x":{"field":"t","type":"quantitative","scale":{"domain":[0,75.5],"nice":false,"zero":false}},"y":{"field":"v","type":"quantitative","scale":{"domain":[-42,4.6],"nice":false,"zero":false},"axis":{"orient":"left","values":[-40,-35,-30,-25,-20,-15,-10,-5,0],"format":"d","labelExpr":"abs(datum.value/10-round(datum.value/10))<0.001 ? datum.label : ''","tickCount":60,"title":"ΔF (Hz)"}}}},
     {"data":{"name":"gL"},"mark":{"type":"text","fontSize":8},"encoding":{"x":{"field":"t","type":"quantitative","scale":{"domain":[0,75.5],"nice":false,"zero":false}},"y":{"field":"y","type":"quantitative","scale":{"domain":[-42,4.6],"nice":false,"zero":false}},"text":{"field":"label"}}},
     {"data":{"name":"gA"},"mark":{"type":"text","fontSize":10,"align":"left","text":"ΔF"},"encoding":{"x":{"field":"t","type":"quantitative","scale":{"domain":[0,75.5],"nice":false,"zero":false}},"y":{"field":"y","type":"quantitative","scale":{"domain":[-42,4.6],"nice":false,"zero":false}}}},
     {"data":{"name":"gA"},"mark":{"type":"text","fontSize":7,"align":"left","dx":13,"dy":3},"encoding":{"x":{"field":"t","type":"quantitative","scale":{"domain":[0,75.5],"nice":false,"zero":false}},"y":{"field":"y","type":"quantitative","scale":{"domain":[-42,4.6],"nice":false,"zero":false}},"text":{"field":"sub"}}},
     {"data":{"name":"gA"},"transform":[{"filter":"datum.sub=='NC3'"}],"mark":{"type":"text","fontSize":10,"align":"left","dx":27},"encoding":{"x":{"field":"t","type":"quantitative","scale":{"domain":[0,75.5],"nice":false,"zero":false}},"y":{"field":"y","type":"quantitative","scale":{"domain":[-42,4.6],"nice":false,"zero":false}},"text":{"field":"rest"}}},
     {"data":{"name":"gA"},"transform":[{"filter":"datum.sub=='Ab'"}],"mark":{"type":"text","fontSize":10,"align":"left","dx":21.5},"encoding":{"x":{"field":"t","type":"quantitative","scale":{"domain":[0,75.5],"nice":false,"zero":false}},"y":{"field":"y","type":"quantitative","scale":{"domain":[-42,4.6],"nice":false,"zero":false}},"text":{"field":"rest"}}}
   ]}
  ],
  "resolve":{"scale":{"y":"independent"}}
 },
 {"title":"(h)","width":252,"height":209,
  "layer":[
   {"data":{"name":"hB"},"mark":{"type":"rect"},"encoding":{"x":{"field":"s","type":"quantitative","scale":{"domain":[0,110],"nice":false,"zero":false},"axis":{"values":[0,5,10,15,20,25,30,35,40,45,50,55,60,65,70,75,80,85,90,95,100,105,110],"format":"d","labelExpr":"abs(datum.value/10-round(datum.value/10))<0.001 ? datum.label : ''","tickCount":60,"title":"Time (min)"}},"x2":{"field":"e"},"color":{"field":"k","type":"nominal","scale":{"domain":["BSA","EDC","NC3","Block","Ab"],"range":["#f2f8dc","#f5e1f7","#d8f1fb","#f7d3d0","#ebf2dd"]},"legend":null}}},
   {"data":{"name":"hD"},"mark":{"type":"line","color":"#ff4d4d","strokeWidth":1.2},"encoding":{"x":{"field":"t","type":"quantitative","scale":{"domain":[0,110],"nice":false,"zero":false}},"y":{"field":"v","type":"quantitative","scale":{"domain":[-0.31,4.0],"nice":false,"zero":false},"axis":{"orient":"right","values":[0,0.25,0.5,0.75,1,1.25,1.5,1.75,2,2.25,2.5,2.75,3,3.25,3.5,3.75,4],"format":".1f","labelExpr":"abs(datum.value/0.5-round(datum.value/0.5))<0.001 ? datum.label : ''","tickCount":60,"title":"ΔD (10⁻⁶)"}}}},
   {"layer":[
     {"data":{"name":"hF"},"mark":{"type":"line","color":"#3050f8","strokeWidth":1.2},"encoding":{"x":{"field":"t","type":"quantitative","scale":{"domain":[0,110],"nice":false,"zero":false}},"y":{"field":"v","type":"quantitative","scale":{"domain":[-54.2,4.3],"nice":false,"zero":false},"axis":{"orient":"left","values":[-50,-45,-40,-35,-30,-25,-20,-15,-10,-5,0],"format":"d","labelExpr":"abs(datum.value/10-round(datum.value/10))<0.001 ? datum.label : ''","tickCount":60,"title":"ΔF (Hz)"}}}},
     {"data":{"name":"hL"},"mark":{"type":"text","fontSize":8.5,"angle":270,"align":"left","baseline":"middle"},"encoding":{"x":{"field":"t","type":"quantitative","scale":{"domain":[0,110],"nice":false,"zero":false}},"y":{"field":"y","type":"quantitative","scale":{"domain":[-54.2,4.3],"nice":false,"zero":false}},"text":{"field":"label"}}},
     {"data":{"name":"hP"},"mark":{"type":"text","fontSize":9.5},"encoding":{"x":{"field":"t","type":"quantitative","scale":{"domain":[0,110],"nice":false,"zero":false}},"y":{"field":"y","type":"quantitative","scale":{"domain":[-54.2,4.3],"nice":false,"zero":false}},"text":{"field":"label"}}},
     {"data":{"name":"hA"},"mark":{"type":"text","fontSize":10,"align":"left","text":"ΔF"},"encoding":{"x":{"field":"t","type":"quantitative","scale":{"domain":[0,110],"nice":false,"zero":false}},"y":{"field":"y","type":"quantitative","scale":{"domain":[-54.2,4.3],"nice":false,"zero":false}}}},
     {"data":{"name":"hA"},"mark":{"type":"text","fontSize":7,"align":"left","dx":13,"dy":3},"encoding":{"x":{"field":"t","type":"quantitative","scale":{"domain":[0,110],"nice":false,"zero":false}},"y":{"field":"y","type":"quantitative","scale":{"domain":[-54.2,4.3],"nice":false,"zero":false}},"text":{"field":"sub"}}},
     {"data":{"name":"hA"},"transform":[{"filter":"datum.sub=='NC3'"}],"mark":{"type":"text","fontSize":10,"align":"left","dx":27},"encoding":{"x":{"field":"t","type":"quantitative","scale":{"domain":[0,110],"nice":false,"zero":false}},"y":{"field":"y","type":"quantitative","scale":{"domain":[-54.2,4.3],"nice":false,"zero":false}},"text":{"field":"rest"}}},
     {"data":{"name":"hA"},"transform":[{"filter":"datum.sub=='Ab'"}],"mark":{"type":"text","fontSize":10,"align":"left","dx":21.5},"encoding":{"x":{"field":"t","type":"quantitative","scale":{"domain":[0,110],"nice":false,"zero":false}},"y":{"field":"y","type":"quantitative","scale":{"domain":[-54.2,4.3],"nice":false,"zero":false}},"text":{"field":"rest"}}}
   ]}
  ],
  "resolve":{"scale":{"y":"independent"}}
 }
],
"columns":2,
"spacing":{"row":18,"column":6},
"resolve":{"scale":{"color":"independent","x":"independent","y":"independent"}}
}
